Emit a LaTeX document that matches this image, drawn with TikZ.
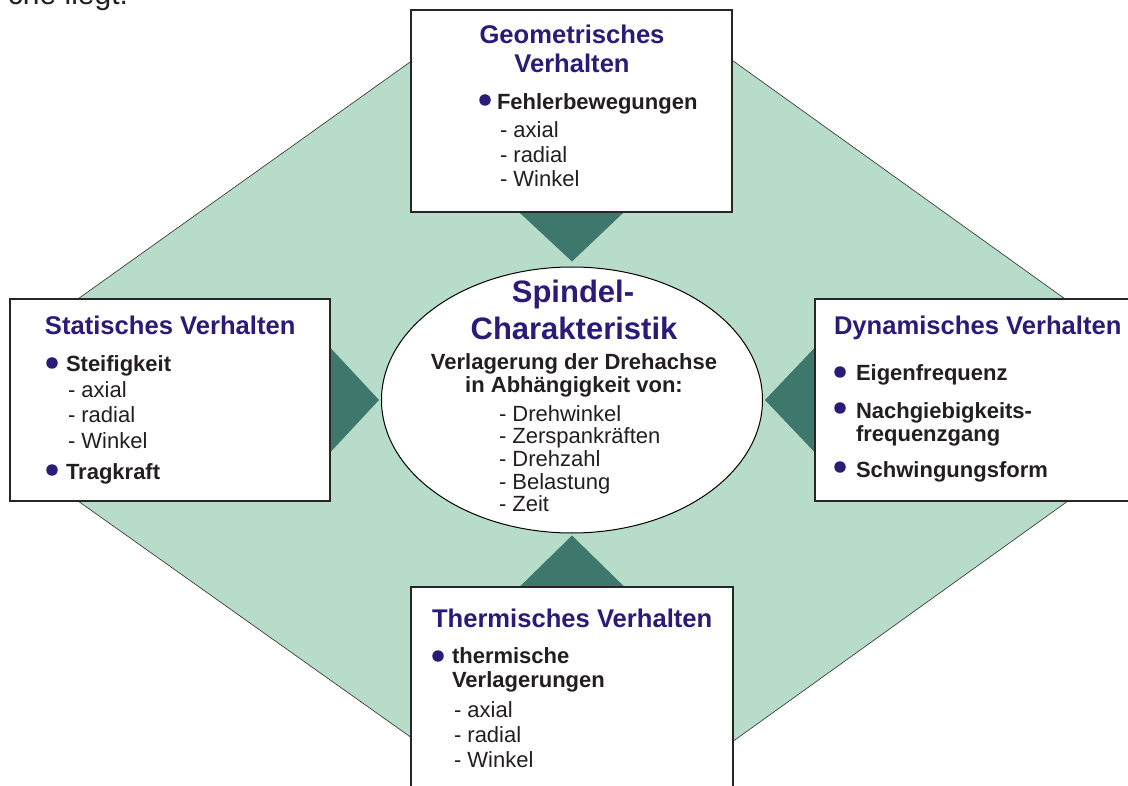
\documentclass[tikz,border=0pt]{standalone}
\usepackage{fontspec}
\setmainfont{Liberation Sans}
\usetikzlibrary{shapes.geometric}
\pgfdeclarelayer{background}
\pgfsetlayers{background,main}
\definecolor{panelgreen}{HTML}{B7DDCA}
\definecolor{arrowteal}{HTML}{3E786C}
\definecolor{headblue}{HTML}{2B1A78}
\definecolor{bodyink}{HTML}{231F20}
\tikzset{
  txt/.style={anchor=base west, inner sep=0pt, outer sep=0pt, text=bodyink, font=\fontsize{22}{26}\selectfont},
  item/.style={txt, font=\fontsize{22}{26}\selectfont\bfseries},
  itemc/.style={item, anchor=base},
  head/.style={anchor=base west, inner sep=0pt, outer sep=0pt, text=headblue, font=\fontsize{25.6}{30}\selectfont\bfseries},
  headc/.style={head, anchor=base},
  bighead/.style={headc, font=\fontsize{31}{36}\selectfont\bfseries},
  dot/.style={circle, fill=headblue, inner sep=0pt, minimum size=11.5pt},
  card/.style={rectangle, draw=black!85, line width=1.2pt, fill=white, inner sep=0pt},
  wedge/.style={fill=arrowteal},
}
\begin{document}
\begin{tikzpicture}[x=1pt,y=-1pt]
\useasboundingbox (0,0) rectangle (1128,786);
\clip (0,0) rectangle (1128,786);

% running text above the figure
\node[txt, font=\fontsize{30}{34}\selectfont] (prev) at (8,5) {che liegt.};

% the four category cards
\node[card, minimum width=321pt, minimum height=202pt] (geo) at (571.5,111) {};
\node[card, minimum width=320pt, minimum height=202pt] (stat) at (170,400) {};
\node[card, minimum width=330pt, minimum height=202pt] (dyn) at (980,400) {};
\node[card, minimum width=322pt, minimum height=220pt] (therm) at (572,697) {};

% central ellipse
\node[ellipse, draw=black, line width=1pt, fill=white, inner sep=0pt,
      minimum width=381pt, minimum height=266pt] (core) at (572,400) {};

% green octagon and dark wedges behind everything
\begin{pgfonlayer}{background}
  \draw[fill=panelgreen, draw=black!75, line width=0.7pt]
    (455,30) -- (690,30) -- (1100,324) -- (1100,478) -- (693,770)
    -- (457,770) -- (40,474) -- (40,326) -- cycle;
  \fill[wedge] ([xshift=-52pt]geo.south) -- ([xshift=52pt]geo.south) -- ([yshift=5pt]core.north) -- cycle;
  \fill[wedge] ([xshift=-52pt]therm.north) -- ([xshift=52pt]therm.north) -- ([yshift=-2pt]core.south) -- cycle;
  \fill[wedge] ([yshift=52pt]stat.east) -- ([yshift=-52pt]stat.east) -- ([xshift=-2pt]core.west) -- cycle;
  \fill[wedge] ([yshift=52pt]dyn.west) -- ([yshift=-52pt]dyn.west) -- ([xshift=2pt]core.east) -- cycle;
\end{pgfonlayer}

% geometric behaviour
\node[headc] (geoT1) at (572,44) {Geometrisches};
\node[headc] (geoT2) at (572,73) {Verhalten};
\node[dot] (geoD1) at (485,100) {};
\node[item] (geoI1) at (497,110) {Fehlerbewegungen};
\node[txt] (geoS1) at (500,138) {- axial};
\node[txt] (geoS2) at (500,163) {- radial};
\node[txt] (geoS3) at (500,187) {- Winkel};

% static behaviour
\node[head] (statT) at (45,335) {Statisches Verhalten};
\node[dot] (statD1) at (52,363) {};
\node[item] (statI1) at (66,372) {Steifigkeit};
\node[txt] (statS1) at (68,398) {- axial};
\node[txt] (statS2) at (68,423) {- radial};
\node[txt] (statS3) at (68,448) {- Winkel};
\node[dot] (statD2) at (52,470) {};
\node[item] (statI2) at (66,479) {Tragkraft};

% dynamic behaviour
\node[head] (dynT) at (834,335) {Dynamisches Verhalten};
\node[dot] (dynD1) at (840,372) {};
\node[item] (dynI1) at (856,381) {Eigenfrequenz};
\node[dot] (dynD2) at (840,408) {};
\node[item] (dynI2) at (856,418) {Nachgiebigkeits-};
\node[item] (dynI3) at (856,442) {frequenzgang};
\node[dot] (dynD3) at (840,467) {};
\node[item] (dynI4) at (856,477) {Schwingungsform};

% thermal behaviour
\node[head] (thermT) at (432,627) {Thermisches Verhalten};
\node[dot] (thermD1) at (438,656) {};
\node[item] (thermI1) at (452,663) {thermische};
\node[item] (thermI2) at (452,687) {Verlagerungen};
\node[txt] (thermS1) at (454,717) {- axial};
\node[txt] (thermS2) at (454,742) {- radial};
\node[txt] (thermS3) at (454,767) {- Winkel};

% spindle characteristic
\node[bighead] (coreT1) at (573,303) {Spindel-};
\node[bighead] (coreT2) at (574,340) {Charakteristik};
\node[itemc] (coreI1) at (574,370) {Verlagerung der Drehachse};
\node[itemc] (coreI2) at (574,392) {in Abhängigkeit von:};
\node[txt] (coreS1) at (499,421) {- Drehwinkel};
\node[txt] (coreS2) at (499,443) {- Zerspankräften};
\node[txt] (coreS3) at (499,466) {- Drehzahl};
\node[txt] (coreS4) at (499,489) {- Belastung};
\node[txt] (coreS5) at (499,511) {- Zeit};
\end{tikzpicture}
\end{document}
